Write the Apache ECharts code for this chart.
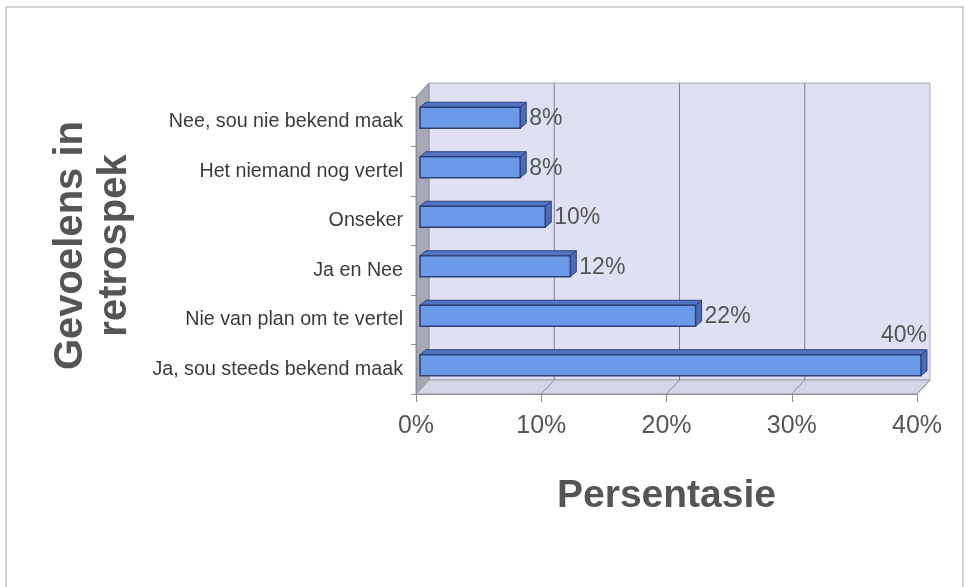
<!DOCTYPE html>
<html>
<head>
<meta charset="utf-8">
<script src="https://cdn.jsdelivr.net/npm/echarts@6/dist/echarts.min.js"></script>
<style>
  html, body { margin: 0; padding: 0; background: #ffffff; }
  #chart { width: 966px; height: 587px; }
</style>
</head>
<body>
<div id="chart"></div>
<script>
// Categories listed bottom to top, as the category axis stacks them
const categories = [
  'Ja, sou steeds bekend maak',
  'Nie van plan om te vertel',
  'Ja en Nee',
  'Onseker',
  'Het niemand nog vertel',
  'Nee, sou nie bekend maak'
];
const values = [40, 22, 12, 10, 8, 8];
const xTicks = [0, 10, 20, 30, 40];

const FONT = '"Liberation Sans", Arial, sans-serif';
const TEXT_GREY = '#555555';

// Depth of the box (back wall offset) and of each bar
const DEPTH = [13, -14];
const BAR_DEPTH = [6, -5];
const BAR_SHIFT = [4, -4];

const chart = echarts.init(document.getElementById('chart'), null, { renderer: 'canvas' });

// Back wall, left wall, floor and gridlines of the 3-D box
function renderWalls(params, api) {
  const cs = params.coordSys;
  const x = cs.x, y = cs.y, w = cs.width, h = cs.height;
  const dx = DEPTH[0], dy = DEPTH[1];
  const children = [];
  children.push({
    type: 'rect',
    shape: { x: x + dx, y: y + dy, width: w, height: h },
    style: { fill: '#dfe0f1', stroke: '#a9aab6', lineWidth: 1 }
  });
  children.push({
    type: 'polygon',
    shape: { points: [[x, y], [x + dx, y + dy], [x + dx, y + h + dy], [x, y + h]] },
    style: { fill: '#a7a8b6', stroke: '#8f90a0', lineWidth: 1 }
  });
  children.push({
    type: 'polygon',
    shape: { points: [[x, y + h], [x + dx, y + h + dy], [x + w + dx, y + h + dy], [x + w, y + h]] },
    style: { fill: '#d4d5e6', stroke: '#9c9dab', lineWidth: 1 }
  });
  xTicks.forEach(function (t) {
    const px = api.coord([t, 0])[0];
    if (t > 0 && t < xTicks[xTicks.length - 1]) {
      children.push({
        type: 'line',
        shape: { x1: px + dx, y1: y + dy, x2: px + dx, y2: y + h + dy },
        style: { stroke: '#7c7d88', lineWidth: 1 }
      });
    }
    if (t > 0) {
      children.push({
        type: 'line',
        shape: { x1: px + dx, y1: y + h + dy, x2: px, y2: y + h },
        style: { stroke: '#8e8f9c', lineWidth: 1 }
      });
    }
  });
  return { type: 'group', children: children };
}

// One 3-D bar: front face, top face, end face and its value label
function renderBar(params, api) {
  const cs = params.coordSys;
  const idx = api.value(0);
  const val = api.value(1);
  const p0 = api.coord([0, idx]);
  const p1 = api.coord([val, idx]);
  const band = api.size([0, 1])[1];
  const barH = band * 0.424;
  const x0 = p0[0] + BAR_SHIFT[0];
  const x1 = p1[0] + BAR_SHIFT[0];
  const yc = p0[1] + BAR_SHIFT[1];
  const yt = yc - barH / 2;
  const yb = yc + barH / 2;
  const bx = BAR_DEPTH[0], by = BAR_DEPTH[1];
  const stroke = '#2f3f78';
  const children = [
    {
      type: 'polygon',
      shape: { points: [[x0, yt], [x0 + bx, yt + by], [x1 + bx, yt + by], [x1, yt]] },
      style: { fill: '#5175c4', stroke: stroke, lineWidth: 1 }
    },
    {
      type: 'polygon',
      shape: { points: [[x1, yt], [x1 + bx, yt + by], [x1 + bx, yb + by], [x1, yb]] },
      style: { fill: '#4d6cb6', stroke: stroke, lineWidth: 1 }
    },
    {
      type: 'rect',
      shape: { x: x0, y: yt, width: x1 - x0, height: barH },
      style: { fill: '#6b9ae8', stroke: stroke, lineWidth: 1.5 }
    }
  ];
  const labelText = val + '%';
  const roomRight = cs.x + cs.width - p1[0];
  if (roomRight < 40) {
    children.push({
      type: 'text',
      style: {
        x: x1 + bx, y: yt + by - 3, text: labelText,
        align: 'right', verticalAlign: 'bottom',
        font: '23px ' + FONT, fill: TEXT_GREY
      }
    });
  } else {
    children.push({
      type: 'text',
      style: {
        x: x1 + bx + 3, y: yc + 1, text: labelText,
        align: 'left', verticalAlign: 'middle',
        font: '23px ' + FONT, fill: TEXT_GREY
      }
    });
  }
  return { type: 'group', children: children };
}

const option = {
  backgroundColor: '#ffffff',
  animation: false,
  graphic: [{
    type: 'rect',
    shape: { x: 6, y: 7, width: 957, height: 600 },
    style: { fill: 'none', stroke: '#c4c4c4', lineWidth: 1.5 },
    silent: true,
    z: -10
  }],
  grid: { left: 416, top: 97, width: 501, height: 297, outerBoundsMode: 'none', containLabel: false },
  xAxis: {
    type: 'value',
    min: 0,
    max: 40,
    interval: 10,
    z: 5,
    name: 'Persentasie',
    nameLocation: 'middle',
    nameGap: 83,
    nameTextStyle: { fontFamily: FONT, fontSize: 39, fontWeight: 'bold', color: TEXT_GREY },
    axisLine: { show: true, lineStyle: { color: '#8d8e9a', width: 1 } },
    axisTick: { show: true, length: 8, lineStyle: { color: '#8d8e9a' } },
    axisLabel: {
      formatter: '{value}%', fontFamily: FONT, fontSize: 25, color: TEXT_GREY, margin: 20
    },
    splitLine: { show: false }
  },
  yAxis: {
    type: 'category',
    data: categories,
    z: 5,
    name: 'Gevoelens in\nretrospek',
    nameLocation: 'middle',
    nameRotate: 90,
    nameGap: 279,
    nameTextStyle: {
      fontFamily: FONT, fontSize: 40, fontWeight: 'bold', color: TEXT_GREY, lineHeight: 44
    },
    axisLine: { show: true, lineStyle: { color: '#8d8e9a', width: 1 } },
    axisTick: { show: true, length: 5, lineStyle: { color: '#8d8e9a' } },
    axisLabel: { fontFamily: FONT, fontSize: 19.7, color: '#3a3a3a', margin: 13 },
    splitLine: { show: false }
  },
  series: [
    {
      type: 'custom',
      name: 'box',
      z: 1,
      silent: true,
      renderItem: renderWalls,
      data: [[0, 0]],
      encode: { x: 0, y: 1 }
    },
    {
      type: 'custom',
      name: 'Persentasie',
      z: 3,
      renderItem: renderBar,
      data: values.map(function (v, i) { return [i, v]; }),
      encode: { y: 0, x: 1 }
    }
  ]
};

chart.setOption(option);
</script>
</body>
</html>
